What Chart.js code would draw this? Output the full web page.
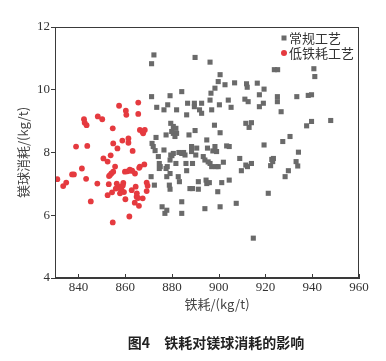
<!DOCTYPE html>
<html>
<head>
<meta charset="utf-8">
<script src="https://cdn.jsdelivr.net/npm/chart.js@4/dist/chart.umd.min.js"></script>
<style>
  html, body { margin: 0; padding: 0; background: #fff; }
  #wrap { width: 386px; height: 361px; position: relative; }
</style>
</head>
<body>
<div id="wrap"><canvas id="chart"></canvas></div>
<script>
// ---- data ----
const xTicks = [840, 860, 880, 900, 920, 940, 960];
const yTicks = [4, 6, 8, 10, 12];

const seriesNames = ["常规工艺", "低铁耗工艺"];

// 低铁耗工艺 (red circles)
const lowX = [831.0, 833.5, 834.8, 837.3, 838.1, 839.0, 841.5, 842.4, 842.7, 843.5, 843.8, 843.3, 845.3, 848.1,
  848.3, 850.2, 850.7, 852.5, 853.0, 852.5, 853.5, 853.8, 854.7, 854.9, 854.9, 854.4, 855.7, 856.7, 854.7, 856.4,
  857.4, 857.4, 857.8, 858.5, 858.8, 859.2, 859.5, 859.9, 860.1, 860.3, 860.5, 861.4, 861.4, 861.8, 862.4, 863.2,
  862.8, 864.2, 864.1, 864.5, 864.9, 865.6, 865.6, 865.9, 866.3, 866.3, 867.3, 867.7, 868.4, 867.5, 868.2, 869.2,
  869.2, 869.6, 854.1, 853.1, 858.0, 859.0, 861.0, 862.0, 863.0, 865.0, 866.0, 865.5, 856.0];
const lowY = [7.15, 6.93, 7.04, 7.30, 7.30, 8.19, 7.49, 9.06, 8.95, 8.87, 8.21, 7.16, 6.44, 7.01,
  9.15, 9.06, 7.81, 7.71, 6.99, 6.64, 7.28, 7.91, 8.77, 8.29, 7.39, 6.73, 7.55, 8.13, 5.77, 7.01,
  9.49, 6.91, 6.70, 6.80, 8.38, 7.03, 6.74, 7.39, 6.51, 9.33, 9.20, 8.45, 8.31, 5.96, 7.42, 8.05,
  6.80, 7.33, 6.40, 6.91, 6.59, 9.23, 9.59, 6.30, 7.55, 8.72, 8.67, 8.61, 8.72, 6.54, 7.62, 7.04,
  6.77, 6.94, 7.33, 7.25, 6.85, 6.95, 7.40, 7.45, 7.42, 6.70, 7.51, 6.55, 6.85];

// 常规工艺 (gray squares)
const normX = [871.3, 872.3, 889.9, 896.3, 871.3, 873.5, 871.5, 872.0, 873.2, 872.8, 871.1, 872.5, 874.6, 874.6,
  874.2, 875.8, 877.0, 877.8, 876.6, 876.6, 878.2, 879.2, 877.5, 879.5, 879.9, 880.6, 880.6, 881.7, 882.0, 881.3,
  877.5, 877.8, 879.2, 878.9, 879.2, 879.2, 879.5, 880.6, 882.0, 884.2, 884.2, 881.7, 882.7, 883.2, 884.2, 884.2,
  885.6, 886.0, 886.3, 886.3, 886.7, 887.3, 887.7, 888.8, 888.4, 888.8, 888.4, 889.6, 889.6, 889.9, 890.6, 890.2,
  891.3, 891.3, 891.8, 892.7, 892.7, 893.4, 894.1, 894.1, 894.6, 894.9, 895.2, 894.9, 896.0, 896.3, 896.7, 897.0,
  896.3, 897.0, 898.2, 898.4, 898.4, 898.9, 899.1, 899.8, 899.6, 899.8, 900.3, 900.6, 900.6, 900.6, 901.3, 902.0,
  902.7, 903.4, 904.1, 904.5, 904.5, 905.3, 906.8, 907.5, 909.0, 909.7, 911.2, 911.6, 911.9, 912.2, 911.6, 912.3,
  912.6, 913.0, 914.0, 914.0, 914.8, 916.5, 917.4, 917.4, 919.1, 919.4, 919.4, 921.2, 922.2, 922.7, 923.4, 923.1,
  923.8, 925.2, 925.1, 925.1, 926.7, 927.4, 928.4, 929.8, 930.5, 933.1, 933.4, 933.8, 934.1, 937.6, 938.3, 939.7,
  939.7, 940.7, 941.1, 947.9, 875.0, 878.0, 880.0, 883.0, 885.0, 895.5, 897.5];
const normY = [10.83, 11.11, 11.03, 10.88, 9.78, 9.44, 8.29, 8.19, 8.48, 8.06, 7.23, 6.96, 7.65, 7.49,
  7.87, 6.27, 6.06, 6.16, 8.08, 9.36, 9.52, 9.81, 8.56, 8.93, 8.67, 8.61, 8.83, 8.77, 8.61, 8.51,
  7.49, 7.23, 7.33, 6.96, 6.83, 7.76, 7.92, 7.97, 9.36, 9.94, 7.97, 7.65, 7.23, 7.07, 6.43, 6.06,
  7.92, 7.65, 7.42, 9.20, 9.57, 8.56, 6.85, 6.85, 8.03, 7.65, 8.19, 9.57, 9.46, 8.70, 8.14, 7.92,
  7.07, 6.83, 9.36, 9.57, 9.25, 7.87, 7.76, 6.21, 7.12, 7.01, 8.14, 8.40, 7.04, 9.67, 9.89, 9.36,
  7.65, 7.55, 8.87, 10.05, 8.19, 7.55, 8.03, 10.26, 6.75, 7.55, 9.52, 10.48, 8.63, 6.27, 7.04, 7.69,
  10.16, 8.21, 9.67, 8.19, 7.12, 9.44, 10.22, 6.38, 7.81, 7.42, 9.70, 8.93, 10.19, 10.08, 7.60, 7.55,
  9.62, 8.80, 8.95, 7.65, 5.27, 10.21, 9.84, 9.46, 9.57, 10.02, 8.24, 6.70, 7.58, 7.78, 7.81, 7.71,
  10.64, 10.64, 9.78, 9.62, 9.30, 8.35, 7.23, 7.42, 8.51, 7.71, 9.78, 7.57, 8.01, 8.85, 9.82, 9.84,
  8.99, 10.67, 10.42, 9.02, 7.55, 7.55, 7.90, 8.00, 8.00, 7.70, 8.05];

const caption = "图4\u3000铁耗对镁球消耗的影响";
const xTitle = "铁耗/(kg/t)";
const yTitle = "镁球消耗/(kg/t)";

// ---- styles ----
const grayColor = "#6a6a6a";
const redColor = "#e53a3f";
const axisColor = "#3a3a3a";
const serifFont = "'Liberation Serif', 'Noto Sans CJK SC', serif";
const cjkFont = "'Noto Sans CJK SC', 'Liberation Serif', serif";

function toPoints(xs, ys) {
  return xs.map((x, i) => ({ x: x, y: ys[i] }));
}

/* frame, inward x ticks, legend, x title, caption */
const decorPlugin = {
  id: "decor",
  afterDraw(chart) {
    const ctx = chart.ctx;
    const a = chart.chartArea;
    const xs = chart.scales.x;
    const midX = (a.left + a.right) / 2;

    ctx.save();
    ctx.strokeStyle = axisColor;
    ctx.lineWidth = 1;
    ctx.strokeRect(a.left + 0.5, a.top + 0.5, a.right - a.left - 1, a.bottom - a.top - 1);

    ctx.beginPath();
    xTicks.forEach(v => {
      const px = Math.round(xs.getPixelForValue(v)) + 0.5;
      ctx.moveTo(px, a.bottom);
      ctx.lineTo(px, a.bottom - 4);
    });
    ctx.stroke();

    // legend
    const lx = a.right - 75;
    const rows = [a.top + 11, a.top + 26];
    ctx.fillStyle = grayColor;
    ctx.fillRect(lx - 2.5, rows[0] - 2.5, 5, 5);
    ctx.fillStyle = redColor;
    ctx.beginPath();
    ctx.arc(lx, rows[1], 3, 0, Math.PI * 2);
    ctx.fill();

    ctx.fillStyle = "#333";
    ctx.font = "13px " + cjkFont;
    ctx.textBaseline = "middle";
    ctx.textAlign = "left";
    ctx.fillText(seriesNames[0], lx + 5, rows[0]);
    ctx.fillText(seriesNames[1], lx + 5, rows[1]);

    // x axis title
    ctx.fillStyle = "#444";
    ctx.textAlign = "center";
    ctx.fillText(xTitle, midX + 10, a.bottom + 26);

    // figure caption
    ctx.fillStyle = "#222";
    ctx.font = "bold 14px " + cjkFont;
    ctx.fillText(caption, midX + 9, 343);
    ctx.restore();
  }
};

new Chart(document.getElementById("chart"), {
  type: "scatter",
  data: {
    datasets: [
      {
        label: seriesNames[0],
        data: toPoints(normX, normY),
        pointStyle: "rect",
        pointRadius: 3.6,
        backgroundColor: grayColor,
        borderWidth: 0
      },
      {
        label: seriesNames[1],
        data: toPoints(lowX, lowY),
        pointStyle: "circle",
        pointRadius: 2.9,
        backgroundColor: redColor,
        borderWidth: 0
      }
    ]
  },
  options: {
    responsive: true,
    maintainAspectRatio: false,
    animation: false,
    layout: { padding: { top: 27, right: 27, bottom: 42, left: 0 } },
    plugins: {
      legend: { display: false },
      tooltip: { enabled: false }
    },
    scales: {
      x: {
        type: "linear",
        min: 830,
        max: 960,
        afterFit(scale) { scale.height = 41; },
        afterBuildTicks(scale) { scale.ticks = xTicks.map(v => ({ value: v })); },
        ticks: { color: "#333", font: { family: serifFont, size: 13 }, padding: 2 },
        grid: { drawOnChartArea: false, drawTicks: false, color: axisColor },
        border: { color: axisColor }
      },
      y: {
        type: "linear",
        min: 4,
        max: 12,
        afterFit(scale) { scale.width = 55; },
        afterBuildTicks(scale) { scale.ticks = yTicks.map(v => ({ value: v })); },
        ticks: { color: "#333", font: { family: serifFont, size: 13 }, padding: 1 },
        grid: { drawOnChartArea: false, tickLength: 4, color: axisColor },
        border: { color: axisColor },
        title: {
          display: true,
          text: yTitle,
          color: "#444",
          font: { family: cjkFont, size: 13 },
          padding: { top: 15, bottom: 0 }
        }
      }
    }
  },
  plugins: [decorPlugin]
});
</script>
</body>
</html>
